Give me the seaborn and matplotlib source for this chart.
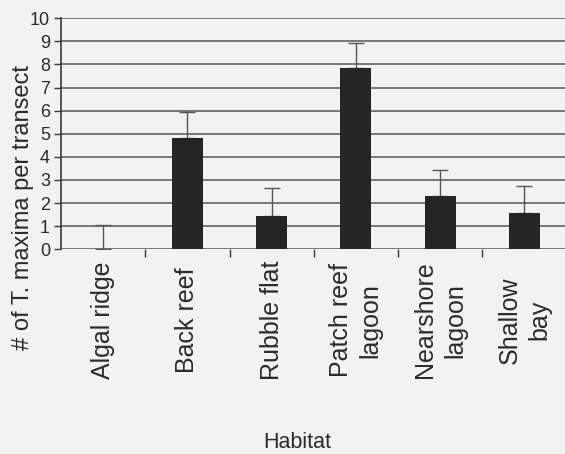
import matplotlib
matplotlib.use("Agg")
import matplotlib.pyplot as plt
import seaborn as sns
import pandas as pd

# Habitat categories and mean counts with upper error (SE)
habitats = ["Algal ridge", "Back reef", "Rubble flat",
            "Patch reef\nlagoon", "Nearshore\nlagoon", "Shallow\nbay"]
means = [0.0, 4.8, 1.45, 7.85, 2.3, 1.55]
errors = [1.05, 1.15, 1.2, 1.1, 1.12, 1.2]
y_ticks = [0, 1, 2, 3, 4, 5, 6, 7, 8, 9, 10]

df = pd.DataFrame({"Habitat": habitats, "Count": means})

sns.set_theme(style="white")
plt.rcParams["font.family"] = ["Liberation Sans", "DejaVu Sans"]

paper = "#f2f2f2"
ink = "#2b2b2b"

fig = plt.figure(figsize=(5.65, 4.54), dpi=100, facecolor=paper)
ax = fig.add_axes([0.108, 0.4509, 0.8947, 0.5088])
ax.set_facecolor(paper)

sns.barplot(data=df, x="Habitat", y="Count", color="#252525",
            width=0.37, errorbar=None, saturation=1, linewidth=0,
            ax=ax, zorder=3)

xs = list(range(len(habitats)))
ax.errorbar(xs, means, yerr=[[0] * len(errors), errors], fmt="none",
            ecolor="#555555", elinewidth=1.0, capsize=6, capthick=1.0,
            zorder=2)

ax.set_ylim(0, 10)
ax.set_xlim(-0.5, len(habitats) - 0.5)
ax.set_yticks(y_ticks)
ax.set_yticklabels([str(t) for t in y_ticks], fontsize=13, color=ink)
ax.grid(axis="y", color="#555555", linewidth=1.1, zorder=0)
ax.set_axisbelow(True)

for side in ["top", "right", "bottom"]:
    ax.spines[side].set_visible(False)
ax.spines["left"].set_color("#3a3a3a")
ax.spines["left"].set_linewidth(1.2)

ax.tick_params(axis="y", direction="out", length=5, width=1.0,
               color="#3a3a3a", left=True, pad=3)

# category labels centred in the label band, ticks at category boundaries
ax.set_xticks(xs)
ax.set_xticklabels(habitats, rotation=90, fontsize=18, color=ink,
                   linespacing=1.3)
for lab in ax.get_xticklabels():
    lab.set_va("center")
    lab.set_ha("center")
    lab.set_multialignment("center")
ax.tick_params(axis="x", which="major", length=0, pad=51)
ax.set_xticks([i + 0.5 for i in xs[:-1]], minor=True)
ax.tick_params(axis="x", which="minor", direction="out", length=6,
               width=1.0, color="#3a3a3a", bottom=True)

ax.set_xlabel("")
ax.set_ylabel("")
fig.text(0.526, 0.026, "Habitat", fontsize=15.5, color=ink,
         ha="center", va="center")
fig.text(0.04, 0.544, "# of T. maxima per transect", fontsize=17,
         color=ink, rotation=90, ha="center", va="center")

fig.savefig("out.png", dpi=100, facecolor=paper)
